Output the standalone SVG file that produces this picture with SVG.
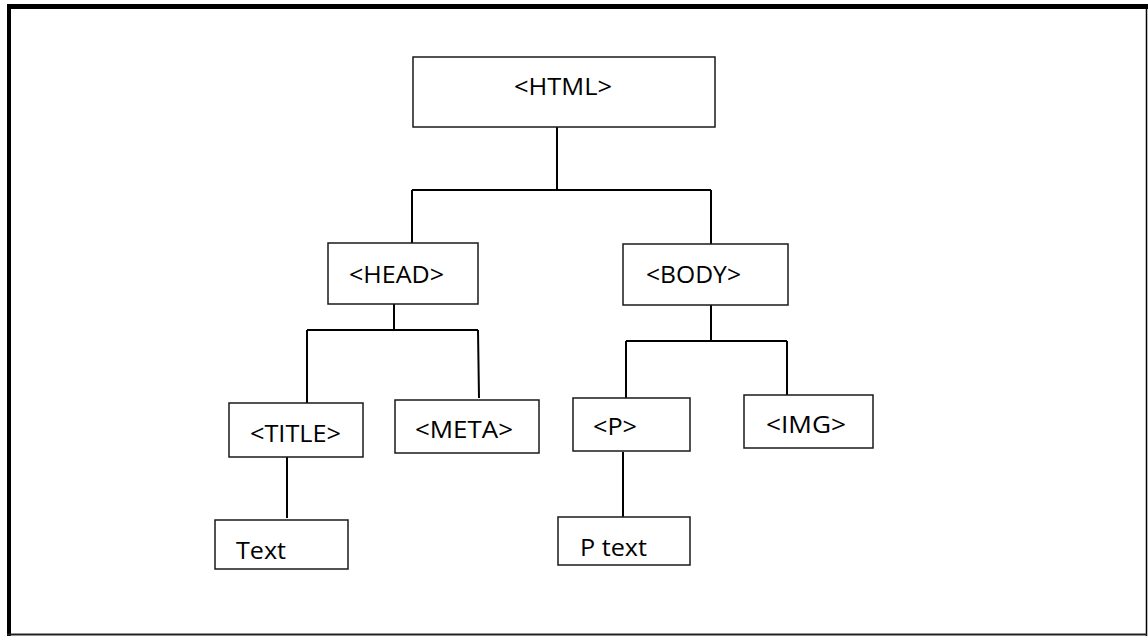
<svg xmlns="http://www.w3.org/2000/svg" width="1148" height="637" viewBox="0 0 1148 637">
  <style>
    .box { fill: #ffffff; stroke: #1a1a1a; stroke-width: 1.5; }
    .lbl { font-family: "Open Sans", "Liberation Sans", Arial, sans-serif; font-size: 24px; fill: #000000; }
    .wire { fill: none; stroke: #000000; stroke-width: 2; }
  </style>

  <!-- page frame: heavy top/left edges, light right/bottom edges -->
  <g id="frame">
    <rect x="0" y="0" width="1148" height="637" fill="#ffffff"/>
    <rect x="7" y="4" width="1141" height="5" fill="#000000"/>
    <rect x="7" y="4" width="4" height="632" fill="#000000"/>
    <line x1="1146.5" y1="4" x2="1146.5" y2="636" stroke="#000000" stroke-width="1.5"/>
    <line x1="7" y1="634.5" x2="1147" y2="634.5" stroke="#222222" stroke-width="2"/>
  </g>

  <!-- tree connectors -->
  <g id="connectors">
    <path class="wire" d="M557 127 V190 M412 190 H711 M412 190 V243 M711 190 V244"/>
    <path class="wire" d="M394 304 V330 M307 330 H478 M307 330 V403 M478 330 L479 398"/>
    <path class="wire" d="M711 305 V341 M626 341 H787 M626 341 V398 M787 341 V395"/>
    <path class="wire" d="M287 457 V518"/>
    <path class="wire" d="M623 452 V520"/>
  </g>

  <g id="html">
    <rect class="box" x="413" y="57" width="302" height="70"/>
    <text class="lbl" x="514" y="95" textLength="98" lengthAdjust="spacingAndGlyphs">&lt;HTML&gt;</text>
  </g>

  <g id="head">
    <rect class="box" x="328" y="243" width="150" height="61"/>
    <text class="lbl" x="349" y="283" textLength="95" lengthAdjust="spacingAndGlyphs">&lt;HEAD&gt;</text>
  </g>

  <g id="body">
    <rect class="box" x="623" y="244" width="165" height="61"/>
    <text class="lbl" x="646" y="283" textLength="95" lengthAdjust="spacingAndGlyphs">&lt;BODY&gt;</text>
  </g>

  <g id="title">
    <rect class="box" x="229" y="403" width="134" height="54"/>
    <text class="lbl" x="250" y="442" textLength="91" lengthAdjust="spacingAndGlyphs">&lt;TITLE&gt;</text>
  </g>

  <g id="meta">
    <rect class="box" x="395" y="400" width="144" height="53"/>
    <text class="lbl" x="415" y="438" textLength="98" lengthAdjust="spacingAndGlyphs">&lt;META&gt;</text>
  </g>

  <g id="p">
    <rect class="box" x="573" y="398" width="117" height="53"/>
    <text class="lbl" x="593" y="435" textLength="44" lengthAdjust="spacingAndGlyphs">&lt;P&gt;</text>
  </g>

  <g id="img">
    <rect class="box" x="744" y="395" width="129" height="53"/>
    <text class="lbl" x="766" y="433" textLength="80" lengthAdjust="spacingAndGlyphs">&lt;IMG&gt;</text>
  </g>

  <g id="title-text">
    <rect class="box" x="215" y="520" width="133" height="49"/>
    <text class="lbl" x="236" y="559" textLength="50" lengthAdjust="spacingAndGlyphs">Text</text>
  </g>

  <g id="p-text">
    <rect class="box" x="558" y="517" width="132" height="48"/>
    <text class="lbl" x="580" y="556" textLength="67" lengthAdjust="spacingAndGlyphs">P text</text>
  </g>
</svg>
